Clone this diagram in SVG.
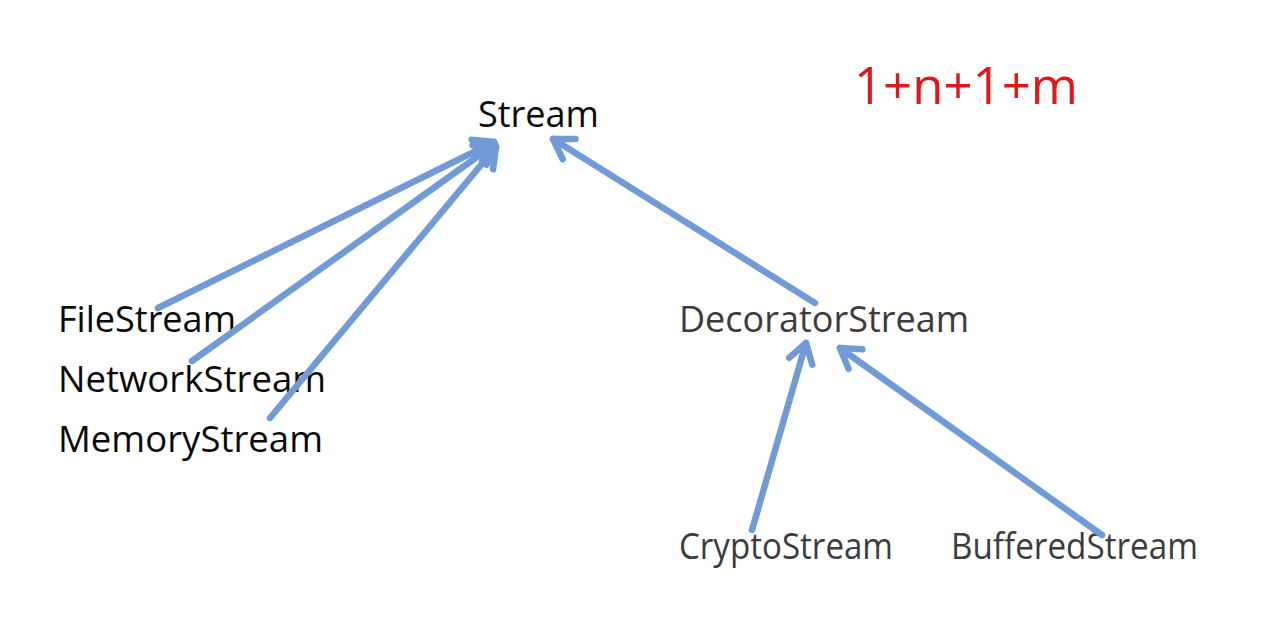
<svg xmlns="http://www.w3.org/2000/svg" width="1285" height="631" viewBox="0 0 1285 631">
<style>
.t{font-family:"Open Sans","Noto Sans","Liberation Sans",sans-serif;font-size:36px;fill:#0a0a0a}
.g{fill:#3c3c3c}
.r{font-family:"Open Sans","Noto Sans","Liberation Sans",sans-serif;font-size:52px;fill:#e01818}
.c line{stroke:#709bd6;stroke-width:6.5;stroke-linecap:round;marker-end:url(#ah)}
</style>
<defs>
<marker id="ah" markerUnits="userSpaceOnUse" markerWidth="40" markerHeight="40" viewBox="-30 -20 40 40" refX="0" refY="0" orient="auto">
<path d="M-19,-12 L0,0 L-19,12" fill="none" stroke="#709bd6" stroke-width="6.5" stroke-linecap="round" stroke-linejoin="round"/>
</marker>
</defs>
<rect width="1285" height="631" fill="#ffffff"/>
<g id="stream"><text class="t" x="478" y="127" textLength="121" lengthAdjust="spacingAndGlyphs">Stream</text></g>
<g id="filestream"><text class="t" x="58" y="332" textLength="178" lengthAdjust="spacingAndGlyphs">FileStream</text></g>
<g id="networkstream"><text class="t" x="58" y="392" textLength="268" lengthAdjust="spacingAndGlyphs">NetworkStream</text></g>
<g id="memorystream"><text class="t" x="58" y="452" textLength="265" lengthAdjust="spacingAndGlyphs">MemoryStream</text></g>
<g id="decoratorstream"><text class="t g" x="679" y="332" textLength="290" lengthAdjust="spacingAndGlyphs">DecoratorStream</text></g>
<g id="cryptostream"><text class="t g" x="679" y="559" textLength="214" lengthAdjust="spacingAndGlyphs">CryptoStream</text></g>
<g id="bufferedstream"><text class="t g" x="951" y="559" textLength="247" lengthAdjust="spacingAndGlyphs">BufferedStream</text></g>
<g id="formula"><text class="r" x="854" y="104" textLength="224" lengthAdjust="spacingAndGlyphs">1+n+1+m</text></g>
<g id="connectors" class="c">
<line x1="158" y1="308" x2="494" y2="142"/>
<line x1="192" y1="361" x2="495" y2="144"/>
<line x1="270" y1="418" x2="496" y2="147"/>
<line x1="815" y1="303" x2="553" y2="139"/>
<line x1="752" y1="530" x2="806" y2="343"/>
<line x1="1102" y1="535" x2="840" y2="348"/>
</g>
</svg>
